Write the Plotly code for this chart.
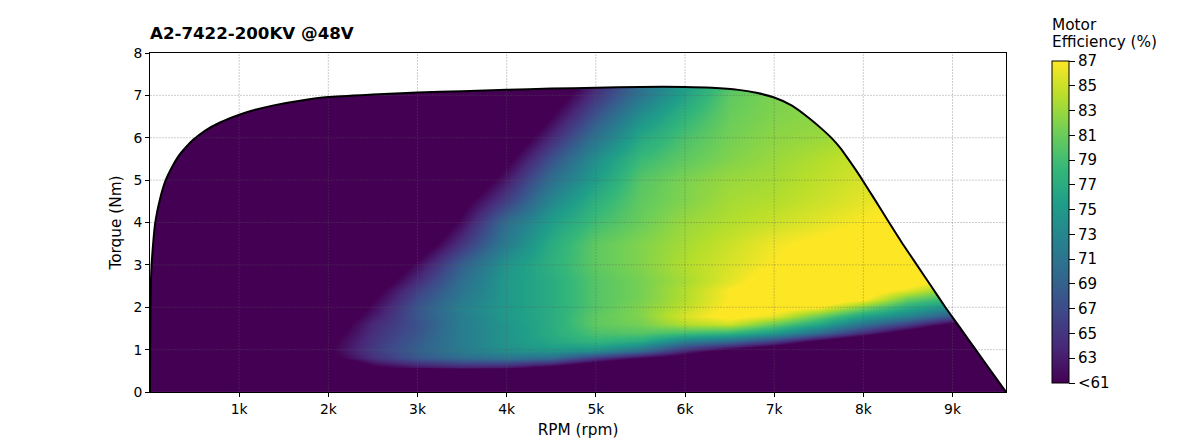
import plotly.graph_objects as go

FONT = "DejaVu Sans"

# rpm columns and torque rows of the efficiency map
rpm = [0, 1500, 2000, 2500, 3000, 3500, 4000, 4500, 5000, 5500, 6000, 6500, 7000, 7500, 8000, 8500, 9000, 9600]
torque = [0, 0.4, 0.6, 0.8, 1.0, 1.2, 1.4, 1.6, 1.8, 2.0, 2.2, 2.4, 2.6, 3, 3.5, 4, 4.5, 5, 5.5, 6, 6.5, 7, 7.4]

# efficiency in %, one row per torque value, anything under 61 shows as the bottom colour
efficiency = [
    [50, 50, 50, 50, 50, 50, 50, 50, 50, 50, 50, 50, 50, 50, 50, 50, 50, 50],
    [50, 50, 50, 50, 50, 50, 50, 50, 50, 50, 50, 50, 50, 50, 50, 50, 50, 50],
    [50, 50, 52, 60.5, 62.5, 63.5, 63, 60, 56, 52, 50, 50, 50, 50, 50, 50, 50, 50],
    [50, 50, 59.5, 64.5, 68, 70, 71, 70, 65, 61, 58, 52, 50, 50, 50, 50, 50, 50],
    [50, 50, 60.5, 65.5, 69, 72, 74, 75, 74.5, 71, 64.5, 60, 56, 52, 50, 50, 50, 50],
    [50, 50, 60, 65, 68.5, 72, 74.5, 76.5, 78, 77, 72.5, 70, 66, 60, 55, 50, 50, 50],
    [50, 50, 59, 64.5, 68, 72, 74.5, 77, 79.5, 80, 79, 78, 75, 70, 64, 58, 52, 50],
    [50, 50, 58, 64, 67.5, 72, 74.5, 77, 80.5, 81.5, 84, 85, 81, 76.5, 71, 66, 60, 54],
    [50, 50, 56.5, 62.8, 68, 72, 75, 77, 80.5, 82, 85.5, 88, 86, 81, 76, 72.5, 68, 60],
    [50, 50, 55, 61.7, 68, 72.5, 75, 77, 80, 82, 84.5, 87.5, 88.5, 87, 82, 77, 74, 68],
    [50, 50, 54, 60.7, 67, 71.5, 75, 77, 80, 81.5, 84, 87, 89, 89, 87.5, 81, 78, 74],
    [50, 50, 53, 59.5, 66, 71, 75, 77, 80, 81.5, 84, 87, 89, 89, 89, 86, 82, 80],
    [50, 50, 52, 58, 64.6, 70.5, 75, 77, 80, 81.5, 83.5, 86, 88.5, 89, 89, 88.5, 86, 84],
    [50, 50, 50, 55.5, 62, 69, 74.5, 77.5, 80.5, 82, 84, 85.5, 87, 88.5, 89, 89, 89, 89],
    [50, 50, 50, 52, 58, 65, 72, 77, 80.5, 82, 83.5, 85, 86.5, 87.5, 88.5, 89, 89, 89],
    [50, 50, 50, 50, 55, 62, 70.5, 75.5, 79, 81, 83, 84, 85, 86, 87, 88, 88, 88],
    [50, 50, 50, 50, 52, 59.5, 66, 73, 77.5, 80.5, 82, 83.5, 84, 85, 86, 87, 87, 87],
    [50, 50, 50, 50, 50, 56, 63, 70.5, 75.5, 80, 81.8, 83, 83.5, 84.5, 85.5, 86, 86, 86],
    [50, 50, 50, 50, 50, 53, 60, 67.5, 74, 78.5, 80.5, 82, 83, 84, 85, 85, 85, 85],
    [50, 50, 50, 50, 50, 50, 57, 64, 71, 76.5, 79.5, 81.5, 82.5, 83, 84, 84, 84, 84],
    [50, 50, 50, 50, 50, 50, 54, 61, 68, 74, 78, 81, 82, 82.5, 83, 83, 83, 83],
    [50, 50, 50, 50, 50, 50, 52, 58, 65, 71, 76, 80.5, 81.8, 82, 82, 82, 82, 82],
    [50, 50, 50, 50, 50, 50, 50, 56, 63, 70, 75, 79, 81, 82, 82, 82, 82, 82],
]

# peak torque envelope
limit_rpm = [0, 2, 5, 10, 19, 37, 56, 80, 112, 140, 176, 240, 314, 400, 484, 620, 785, 1010, 1180, 1400, 1700,
             2000, 2500, 3000, 3500, 4000, 4500, 5000, 5500, 6000, 6300, 6600, 6800, 7000, 7200, 7400, 7550,
             7650, 7750, 7830, 7960, 8120, 8280, 8440, 8600, 8760, 8920, 9090, 9260, 9430, 9600]
limit_torque = [0, 1.0, 2.0, 2.6, 3.05, 3.55, 3.95, 4.25, 4.55, 4.77, 5.0, 5.28, 5.55, 5.77, 5.95, 6.17, 6.36, 6.55, 6.66, 6.77, 6.88,
                6.96, 7.02, 7.07, 7.1, 7.13, 7.16, 7.18, 7.2, 7.2, 7.18, 7.13, 7.06, 6.95, 6.76, 6.45, 6.18,
                5.98, 5.74, 5.5, 5.1, 4.57, 4.03, 3.5, 3.0, 2.5, 2.0, 1.5, 1.0, 0.5, 0]

x_ticks = [1000, 2000, 3000, 4000, 5000, 6000, 7000, 8000, 9000]
x_labels = ["1k", "2k", "3k", "4k", "5k", "6k", "7k", "8k", "9k"]
y_ticks = [0, 1, 2, 3, 4, 5, 6, 7, 8]
cbar_ticks = [61, 63, 65, 67, 69, 71, 73, 75, 77, 79, 81, 83, 85, 87]
cbar_labels = ["<61", "63", "65", "67", "69", "71", "73", "75", "77", "79", "81", "83", "85", "87"]

fig = go.Figure()

fig.add_trace(go.Heatmap(
    x=rpm, y=torque, z=efficiency, zsmooth="best", zmin=61, zmax=87,
    colorscale="Viridis",
    colorbar=dict(
        lenmode="pixels", len=322, thicknessmode="pixels", thickness=17,
        x=(1052 - 150) / 856, xanchor="left", xpad=0,
        y=(392 - 61) / 339, yanchor="top", ypad=0,
        tickvals=cbar_ticks, ticktext=cbar_labels, ticks="outside", ticklen=6,
        tickcolor="black", tickfont=dict(family=FONT, size=15, color="black"),
        outlinecolor="black", outlinewidth=1,
    ),
))

# white out everything above the envelope
fig.add_trace(go.Scatter(
    x=limit_rpm + [9600, 0], y=limit_torque + [8, 8], mode="lines", fill="toself",
    fillcolor="white", line=dict(width=0), hoverinfo="skip", showlegend=False,
))

# grid goes on top of the heatmap, so it is drawn as a trace
grid_x, grid_y = [], []
for t in x_ticks:
    grid_x += [t, t, None]
    grid_y += [0, 8, None]
for t in y_ticks[1:-1]:
    grid_x += [0, 9600, None]
    grid_y += [t, t, None]
fig.add_trace(go.Scatter(
    x=grid_x, y=grid_y, mode="lines", hoverinfo="skip", showlegend=False,
    line=dict(color="rgba(90,90,90,0.5)", width=0.6, dash="2px,1px"),
))

fig.add_trace(go.Scatter(
    x=limit_rpm, y=limit_torque, mode="lines", line=dict(color="black", width=2, shape="spline", smoothing=0.5),
    showlegend=False,
))

fig.update_xaxes(
    range=[0, 9600], tickvals=x_ticks, ticktext=x_labels, showgrid=False, zeroline=False, automargin=False,
    ticks="outside", ticklen=4, tickcolor="black", showline=True, linecolor="black", mirror=True,
    tickfont=dict(family=FONT, size=13.9, color="black"),
    title=dict(text="RPM (rpm)", font=dict(family=FONT, size=15.3, color="black"), standoff=8),
)
fig.update_yaxes(
    range=[0, 8], tickvals=y_ticks, showgrid=False, zeroline=False, automargin=False,
    ticks="outside", ticklen=4, tickcolor="black", showline=True, linecolor="black", mirror=True,
    tickfont=dict(family=FONT, size=13.9, color="black"),
    title=dict(text="Torque (Nm)", font=dict(family=FONT, size=15.3, color="black"), standoff=8),
)

# the page body adds 8px on the top and left, so the figure is laid out from there
fig.update_layout(
    width=1192, height=432, autosize=False,
    margin=dict(l=142, r=194, t=45, b=48),
    paper_bgcolor="white", plot_bgcolor="white",
    font=dict(family=FONT, color="black"),
    title=dict(
        text="<b>A2-7422-200KV @48V</b>", font=dict(family=FONT, size=16.67, color="black"),
        x=142 / 1192, xanchor="left", y=1 - 25 / 432, yanchor="middle",
    ),
)

# two separate lines, the title line spacing is tighter than plotly's <br>
for text, top in [("Motor", 25), ("Efficiency (%)", 42)]:
    fig.add_annotation(
        text=text, xref="paper", yref="paper",
        x=(1052 - 150) / 856, y=(392 - top) / 339, xanchor="left", yanchor="middle",
        showarrow=False, xshift=-2, font=dict(family=FONT, size=15.3, color="black"),
    )

fig.write_html("out.html")
